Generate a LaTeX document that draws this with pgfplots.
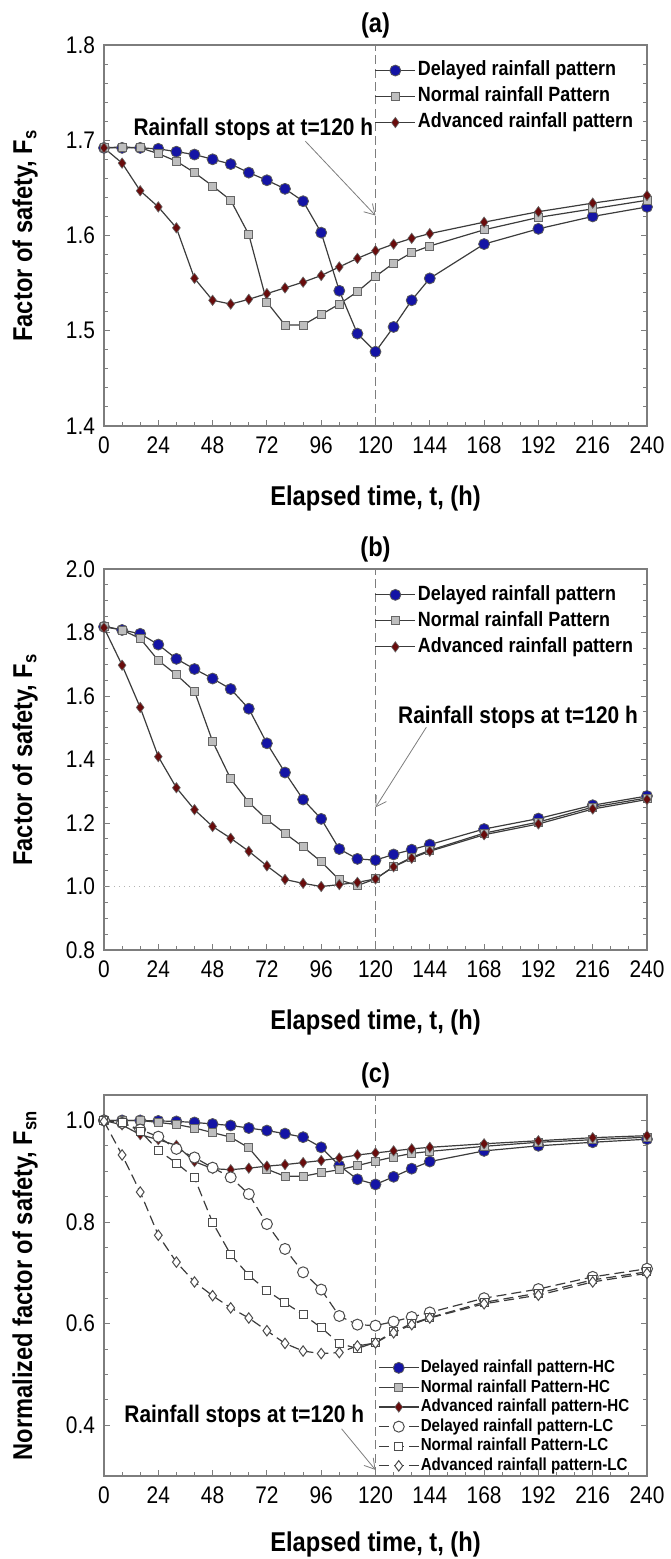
\documentclass[border=0pt]{standalone}
\usepackage{fontspec}
\setmainfont{Liberation Sans}[FakeStretch=0.87]
\usepackage{pgfplots}
\pgfplotsset{compat=1.18}
\usetikzlibrary{arrows.meta}

\definecolor{dblue}{RGB}{20,20,165}
\definecolor{dred}{RGB}{105,12,12}
\definecolor{sqgray}{RGB}{190,190,190}
\definecolor{lngray}{RGB}{60,60,60}
\definecolor{axgray}{RGB}{125,125,125}

\tikzset{
  arr/.style={axgray, line width=0.4pt, -{Straight Barb[length=5pt,width=6pt]}},
  note/.style={font=\bfseries\fontsize{12}{14}\selectfont, anchor=center},
}

\pgfplotsset{
  legend image code/.code={\draw[mark repeat=2,mark phase=2,#1] plot coordinates {(0pt,0pt) (10pt,0pt) (20pt,0pt)};},
  every axis title/.style={at={(0.5,1.052)}, anchor=center, font=\bfseries\fontsize{13.6}{16}\selectfont},
  panel/.style={
    scale only axis, width=271.5pt, height=190.5pt,
    xmin=0, xmax=240, xtick={0,24,...,240}, minor x tick num=2,
    xtick pos=bottom, ytick pos=both, tick align=inside,
    axis line style={axgray, line width=0.7pt},
    every tick/.style={axgray, line width=0.5pt},
    major tick length=3pt, minor tick length=2pt,
    tick label style={font=\fontsize{12}{14}\selectfont},
    /pgf/number format/assume math mode=true,
    y tick label style={/pgf/number format/fixed, /pgf/number format/fixed zerofill, /pgf/number format/precision=1, xshift=-1pt},
    x tick label style={yshift=-2pt},
    xlabel={Elapsed time, t, (h)},
    xlabel style={font=\bfseries\fontsize{13.6}{16}\selectfont, at={(axis description cs:0.5,-0.19)}, anchor=center},
    ylabel style={font=\bfseries\fontsize{13.6}{16}\selectfont, at={(axis description cs:-0.1455,0.5)}, anchor=center},
    legend style={draw=none, fill=none, inner sep=0pt, anchor=north west, row sep=1.2pt,
      font=\bfseries\fontsize{10.3}{12}\selectfont,
      nodes={inner sep=1pt, text height=7.6pt, text depth=2.2pt}},
    legend cell align=left,
  },
  ser/.style={lngray, line width=0.6pt},
  dly/.style={ser, mark=*, mark size=2.75pt, mark options={solid, fill=dblue, draw=black!65, line width=0.4pt}},
  nrm/.style={ser, mark=square*, mark size=2pt, mark options={solid, fill=sqgray, draw=black!60, line width=0.4pt}},
  adv/.style={ser, mark=diamond*, mark size=2.6pt, mark options={solid, fill=dred, draw=black!60, line width=0.3pt}},
  lcs/.style={lngray, line width=0.6pt, dash pattern=on 5pt off 2.5pt},
  dlyo/.style={lcs, mark=*, mark size=2.75pt, mark options={solid, fill=white, draw=black!70, line width=0.5pt}},
  nrmo/.style={lcs, mark=square*, mark size=2pt, mark options={solid, fill=white, draw=black!70, line width=0.5pt}},
  advo/.style={lcs, mark=diamond*, mark size=2.6pt, mark options={solid, fill=white, draw=black!70, line width=0.5pt}},
  stopline/.style={axgray, line width=0.6pt, dash pattern=on 4.5pt off 2.2pt, forget plot},
}

\begin{document}
\begin{tikzpicture}

% ---------------- (a) ----------------
\begin{axis}[panel, at={(0pt,0pt)}, title={(a)},
  ymin=1.4, ymax=1.8, ytick={1.4,1.5,1.6,1.7,1.8}, minor y tick num=4,
  ylabel={Factor of safety, F\textsubscript{s}},
  legend style={at={(axis cs:119.5,1.786)}}]
\addplot[stopline] coordinates {(120,1.4) (120,1.8)};
\addplot[dly] coordinates {
 (0,1.692) (8,1.692) (16,1.692) (24,1.691) (32,1.688) (40,1.685) (48,1.680) (56,1.675)
 (64,1.666) (72,1.658) (80,1.649) (88,1.636) (96,1.603) (104,1.542) (112,1.497) (120,1.478)
 (128,1.504) (136,1.532) (144,1.555) (168,1.591) (192,1.607) (216,1.620) (240,1.630)};
\addplot[nrm] coordinates {
 (0,1.692) (8,1.693) (16,1.692) (24,1.686) (32,1.678) (40,1.666) (48,1.652) (56,1.637)
 (64,1.601) (72,1.530) (80,1.506) (88,1.506) (96,1.517) (104,1.528) (112,1.541) (120,1.557)
 (128,1.571) (136,1.582) (144,1.589) (168,1.606) (192,1.619) (216,1.628) (240,1.637)};
\addplot[adv] coordinates {
 (0,1.692) (8,1.676) (16,1.647) (24,1.630) (32,1.608) (40,1.555) (48,1.532) (56,1.528)
 (64,1.533) (72,1.539) (80,1.545) (88,1.551) (96,1.558) (104,1.567) (112,1.576) (120,1.584)
 (128,1.591) (136,1.597) (144,1.602) (168,1.614) (192,1.625) (216,1.634) (240,1.642)};
\legend{Delayed rainfall pattern, Normal rainfall Pattern, Advanced rainfall pattern}
\draw[arr] (axis cs:89,1.699) -- (axis cs:120,1.621);
\node[note] at (axis cs:66,1.711) {Rainfall stops at t=120 h};
\end{axis}

% ---------------- (b) ----------------
\begin{axis}[panel, at={(0pt,-262pt)}, title={(b)},
  ymin=0.8, ymax=2.0, ytick={0.8,1.0,1.2,1.4,1.6,1.8,2.0}, minor y tick num=3,
  ylabel={Factor of safety, F\textsubscript{s}},
  legend style={at={(axis cs:119.5,1.957)}}]
\addplot[stopline] coordinates {(120,0.8) (120,2.0)};
\addplot[gray!60, line width=0.5pt, dotted, forget plot] coordinates {(0,1.0) (240,1.0)};
\addplot[dly] coordinates {
 (0,1.818) (8,1.808) (16,1.796) (24,1.762) (32,1.717) (40,1.685) (48,1.655) (56,1.622)
 (64,1.560) (72,1.451) (80,1.359) (88,1.274) (96,1.213) (104,1.118) (112,1.087) (120,1.083)
 (128,1.101) (136,1.116) (144,1.132) (168,1.181) (192,1.214) (216,1.256) (240,1.285)};
\addplot[nrm] coordinates {
 (0,1.820) (8,1.808) (16,1.781) (24,1.712) (32,1.667) (40,1.615) (48,1.457) (56,1.339)
 (64,1.265) (72,1.211) (80,1.167) (88,1.125) (96,1.078) (104,1.021) (112,1.003) (120,1.024)
 (128,1.063) (136,1.092) (144,1.114) (168,1.168) (192,1.203) (216,1.250) (240,1.279)};
\addplot[adv] coordinates {
 (0,1.815) (8,1.697) (16,1.564) (24,1.409) (32,1.311) (40,1.242) (48,1.189) (56,1.152)
 (64,1.111) (72,1.065) (80,1.022) (88,1.010) (96,1.000) (104,1.006) (112,1.013) (120,1.024)
 (128,1.062) (136,1.089) (144,1.111) (168,1.163) (192,1.197) (216,1.244) (240,1.274)};
\legend{Delayed rainfall pattern, Normal rainfall Pattern, Advanced rainfall pattern}
\draw[arr] (axis cs:142.5,1.502) -- (axis cs:120,1.249);
\node[note] at (axis cs:183,1.534) {Rainfall stops at t=120 h};
\end{axis}

% ---------------- (c) ----------------
\begin{axis}[panel, at={(0pt,-525pt)}, title={(c)},
  ymin=0.3, ymax=1.05, ytick={0.4,0.6,0.8,1.0}, minor y tick num=3,
  ylabel={Normalized factor of safety, F\textsubscript{sn}},
  xlabel style={at={(axis description cs:0.5,-0.18)}},
  legend style={at={(axis cs:121,0.533)}, row sep=0pt,
    font=\bfseries\fontsize{8.7}{10}\selectfont,
    nodes={inner sep=0.7pt, text height=6.5pt, text depth=1.9pt}}]
\addplot[stopline] coordinates {(120,0.3) (120,1.05)};
\addplot[dly] coordinates {
 (0,1.000) (8,1.000) (16,1.000) (24,0.999) (32,0.998) (40,0.996) (48,0.993) (56,0.990)
 (64,0.985) (72,0.980) (80,0.974) (88,0.967) (96,0.947) (104,0.911) (112,0.884) (120,0.874)
 (128,0.889) (136,0.905) (144,0.919) (168,0.940) (192,0.950) (216,0.957) (240,0.963)};
\addplot[nrm] coordinates {
 (0,1.000) (8,1.000) (16,1.000) (24,0.996) (32,0.992) (40,0.985) (48,0.976) (56,0.967)
 (64,0.946) (72,0.904) (80,0.890) (88,0.890) (96,0.897) (104,0.903) (112,0.911) (120,0.920)
 (128,0.928) (136,0.935) (144,0.939) (168,0.949) (192,0.957) (216,0.962) (240,0.967)};
\addplot[adv] coordinates {
 (0,1.000) (8,0.991) (16,0.972) (24,0.962) (32,0.951) (40,0.919) (48,0.905) (56,0.903)
 (64,0.906) (72,0.910) (80,0.913) (88,0.917) (96,0.921) (104,0.926) (112,0.932) (120,0.936)
 (128,0.940) (136,0.944) (144,0.947) (168,0.954) (192,0.960) (216,0.966) (240,0.970)};
\addplot[dlyo] coordinates {
 (0,1.000) (8,0.995) (16,0.982) (24,0.968) (32,0.944) (40,0.927) (48,0.907) (56,0.888)
 (64,0.855) (72,0.796) (80,0.747) (88,0.701) (96,0.667) (104,0.615) (112,0.598) (120,0.596)
 (128,0.604) (136,0.613) (144,0.622) (168,0.650) (192,0.668) (216,0.692) (240,0.708)};
\addplot[nrmo] coordinates {
 (0,1.000) (8,0.996) (16,0.979) (24,0.941) (32,0.916) (40,0.887) (48,0.799) (56,0.736)
 (64,0.695) (72,0.665) (80,0.641) (88,0.618) (96,0.592) (104,0.561) (112,0.551) (120,0.563)
 (128,0.584) (136,0.600) (144,0.612) (168,0.642) (192,0.660) (216,0.686) (240,0.702)};
\addplot[advo] coordinates {
 (0,0.998) (8,0.932) (16,0.859) (24,0.774) (32,0.721) (40,0.682) (48,0.655) (56,0.631)
 (64,0.611) (72,0.586) (80,0.561) (88,0.546) (96,0.541) (104,0.543) (112,0.556) (120,0.562)
 (128,0.582) (136,0.598) (144,0.611) (168,0.639) (192,0.656) (216,0.682) (240,0.699)};
\legend{Delayed rainfall pattern-HC, Normal rainfall Pattern-HC, Advanced rainfall pattern-HC,
  Delayed rainfall pattern-LC, Normal rainfall Pattern-LC, Advanced rainfall pattern-LC}
\draw[arr] (axis cs:105,0.393) -- (axis cs:120,0.312);
\node[note] at (axis cs:62,0.417) {Rainfall stops at t=120 h};
\end{axis}

\pgfresetboundingbox
\path (-52pt,213pt) rectangle (283pt,-566.5pt);
\end{tikzpicture}
\end{document}
